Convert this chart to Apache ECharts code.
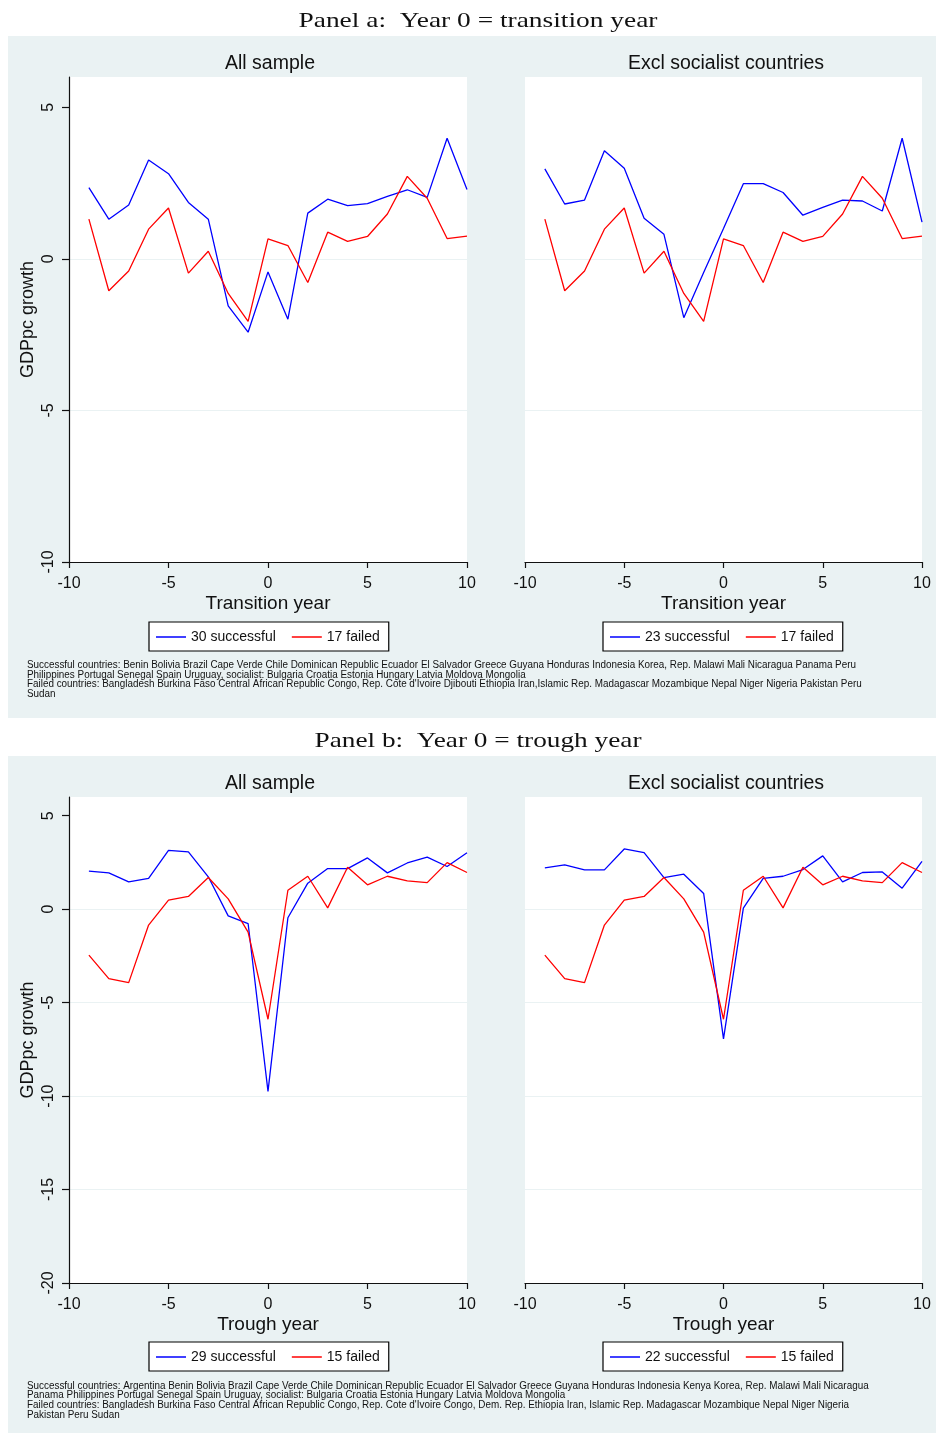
<!DOCTYPE html>
<html><head><meta charset="utf-8">
<script src="https://cdn.jsdelivr.net/npm/echarts@6/dist/echarts.min.js"></script>
<style>html,body{margin:0;padding:0;background:#fff}#c{width:936px;height:1433px}</style>
</head><body><div id="c"></div>
<script>
// ---- data ----
const years = [-9,-8,-7,-6,-5,-4,-3,-2,-1,0,1,2,3,4,5,6,7,8,9,10];
const xTicks = [-10,-5,0,5,10];
const yTicksA = [-10,-5,0,5];
const yTicksB = [-20,-15,-10,-5,0,5];
// Panel a: year 0 = transition year
const aAllSucc  = [2.35,1.31,1.78,3.26,2.81,1.86,1.31,-1.55,-2.42,-0.43,-1.99,1.51,1.97,1.76,1.82,2.06,2.28,2.03,3.98,2.29];
const aFailed   = [1.31,-1.05,-0.40,0.98,1.68,-0.47,0.25,-1.14,-2.06,0.66,0.44,-0.78,0.88,0.58,0.74,1.48,2.72,2.00,0.67,0.75];
const aExclSucc = [2.97,1.81,1.94,3.57,2.99,1.34,0.81,-1.94,-0.45,1.00,2.48,2.48,2.19,1.44,1.70,1.94,1.91,1.58,3.98,1.21];
// Panel b: year 0 = trough year
const bAllSucc  = [2.03,1.94,1.46,1.65,3.15,3.06,1.73,-0.36,-0.77,-9.75,-0.46,1.39,2.17,2.17,2.74,1.94,2.47,2.78,2.28,3.02];
const bFailed   = [-2.46,-3.72,-3.93,-0.85,0.48,0.68,1.69,0.55,-1.23,-5.89,1.01,1.76,0.07,2.24,1.30,1.76,1.51,1.42,2.49,1.96];
const bExclSucc = [2.21,2.37,2.10,2.10,3.22,3.02,1.69,1.87,0.84,-6.94,0.05,1.65,1.76,2.12,2.85,1.46,1.96,1.99,1.12,2.56];
const legendNames = [["30 successful","17 failed"],["23 successful","17 failed"],["29 successful","15 failed"],["22 successful","15 failed"]];
const subTitles = ["All sample","Excl socialist countries"];
const panelTitles = ["Panel a:  Year 0 = transition year","Panel b:  Year 0 = trough year"];
const xNames = ["Transition year","Trough year"];
const notesA = [
"Successful countries: Benin Bolivia Brazil Cape Verde Chile Dominican Republic Ecuador El Salvador Greece Guyana Honduras Indonesia Korea, Rep. Malawi Mali Nicaragua Panama Peru",
"Philippines Portugal Senegal Spain Uruguay, socialist: Bulgaria Croatia Estonia Hungary Latvia Moldova Mongolia",
"Failed countries: Bangladesh Burkina Faso Central African Republic Congo, Rep. Cote d'Ivoire Djibouti Ethiopia Iran,Islamic Rep. Madagascar Mozambique Nepal Niger Nigeria Pakistan Peru",
"Sudan"];
const notesB = [
"Successful countries: Argentina Benin Bolivia Brazil Cape Verde Chile Dominican Republic Ecuador El Salvador Greece Guyana Honduras Indonesia Kenya Korea, Rep. Malawi Mali Nicaragua",
"Panama Philippines Portugal Senegal Spain Uruguay, socialist: Bulgaria Croatia Estonia Hungary Latvia Moldova Mongolia",
"Failed countries: Bangladesh Burkina Faso Central African Republic Congo, Rep. Cote d'Ivoire Congo, Dem. Rep. Ethiopia Iran, Islamic Rep. Madagascar Mozambique Nepal Niger Nigeria",
"Pakistan Peru Sudan"];

// ---- styling ----
const BG = '#EAF2F3', BLUE = '#0000ff', RED = '#ff0000', INK = '#111';
const SANS = '"Liberation Sans", Arial, sans-serif';
const ctx = document.createElement('canvas').getContext('2d');
function fit(text, font, width){ ctx.font = font; return width / ctx.measureText(text).width; }
const noteFont = '10px "Liberation Sans"';
const noteScale = fit(notesA[0], noteFont, 829);
const titleFont = '22px "Liberation Serif"';

const grids = [
  {left:69, top:77, width:398, height:485},
  {left:525, top:77, width:397, height:485},
  {left:69, top:797, width:398, height:486},
  {left:525, top:797, width:397, height:486}
].map(g => Object.assign(g, {show:true, backgroundColor:'#fff', borderWidth:0}));

function xAxis(i){
  return {gridIndex:i, type:'value', min:-10, max:10, interval:5,
    axisLine:{show:true, onZero:false, lineStyle:{color:INK, width:1.2}},
    axisTick:{show:true, length:6, lineStyle:{color:INK, width:1.2}},
    axisLabel:{fontFamily:SANS, fontSize:16, color:INK, margin:14},
    splitLine:{show:false},
    name: xNames[i<2?0:1], nameLocation:'middle', nameGap:32,
    nameTextStyle:{fontFamily:SANS, fontSize:19, color:INK}};
}
function yAxis(i){
  const left = (i%2===0);
  const isA = i<2;
  const ticks = isA ? yTicksA : yTicksB;
  return {gridIndex:i, type:'value', min:isA?-10:-20, max:6, interval:5,
    axisLine:{show:left, onZero:false, lineStyle:{color:INK, width:1.2}},
    axisTick:{show:left, length:7, lineStyle:{color:INK, width:1.2}, customValues:ticks},
    axisLabel:{show:left, rotate:90, fontFamily:SANS, fontSize:16, color:INK, margin:12, customValues:ticks,
      formatter: v => (v%5===0 ? String(v) : '')},
    splitLine:{show:true, showMaxLine:false, lineStyle:{color:BG, width:1}},
    name: left ? 'GDPpc growth' : '', nameLocation:'middle', nameGap:32,
    nameTextStyle:{fontFamily:SANS, fontSize:18, color:INK}};
}
const seriesData = [[aAllSucc,aFailed],[aExclSucc,aFailed],[bAllSucc,bFailed],[bExclSucc,bFailed]];
const series = [];
seriesData.forEach((pair,i)=>{
  [BLUE,RED].forEach((col,k)=>{
    series.push({type:'line', name:legendNames[i][k], xAxisIndex:i, yAxisIndex:i,
      data: years.map((x,j)=>[x,pair[k][j]]), symbol:'none', silent:true,
      lineStyle:{color:col, width:1.3}, itemStyle:{color:col}, z:3});
  });
});
const legendPos = [[149,622],[603,622],[149,1342],[603,1342]];
const legends = legendPos.map((p,i)=>({left:p[0], top:p[1], orient:'horizontal',
  data: legendNames[i].map((n,k)=>({name:n, itemStyle:{color:k?RED:BLUE}})),
  icon:'rect', itemWidth:30, itemHeight:1.5, itemGap:16,
  backgroundColor:'#fff', borderColor:'#000', borderWidth:1.2, padding:[8,9,7,7],
  textStyle:{fontFamily:SANS, fontSize:14, color:INK}, selectedMode:false}));

const graphic = [
  {type:'rect', shape:{x:8,y:36,width:928,height:682}, style:{fill:BG}, z:-10, silent:true},
  {type:'rect', shape:{x:8,y:756,width:928,height:677}, style:{fill:BG}, z:-10, silent:true}
];
[[21,0],[741,1]].forEach(([y,k])=>{
  const w = k===0 ? 359 : 327;
  const s = fit(panelTitles[k], titleFont, w);
  graphic.push({type:'text', x:478 - w/2, y:y, scaleX:s, style:{text:panelTitles[k], font:titleFont, fill:INK, textAlign:'left', textVerticalAlign:'middle'}, z:5});
});
[[270,63.5],[726,63.5],[270,783.5],[726,783.5]].forEach(([x,y],i)=>{
  graphic.push({type:'text', x:x, y:y, style:{text:subTitles[i%2], fontFamily:SANS, fontSize:19.5, fill:INK, textAlign:'center', textVerticalAlign:'middle'}, z:5});
});
[[notesA,665.5],[notesB,1386]].forEach(([lines,y0])=>{
  lines.forEach((t,j)=>{
    graphic.push({type:'text', x:27, y:y0 + j*9.6, scaleX:noteScale,
      style:{text:t, font:noteFont, fill:INK, textAlign:'left', textVerticalAlign:'middle'}, z:5});
  });
});

const chart = echarts.init(document.getElementById('c'), null, {renderer:'canvas'});
chart.setOption({
  backgroundColor:'#fff', animation:false,
  grid: grids,
  xAxis: [0,1,2,3].map(xAxis),
  yAxis: [0,1,2,3].map(yAxis),
  legend: legends,
  series: series,
  graphic: graphic
});
</script></body></html>
